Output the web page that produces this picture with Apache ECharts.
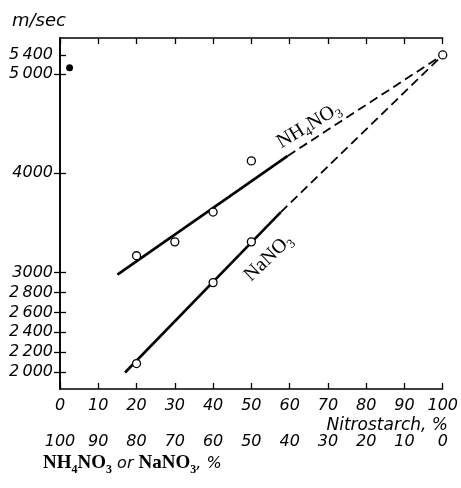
<!DOCTYPE html>
<html>
<head>
<meta charset="utf-8">
<script src="https://cdn.jsdelivr.net/npm/echarts@6/dist/echarts.min.js"></script>
<style>
  html, body { margin: 0; padding: 0; background: #fff; }
  #chart { width: 461px; height: 488px; }
</style>
</head>
<body>
<div id="chart"></div>
<script>
// tick values, m/sec
const yTicks = [2000, 2200, 2400, 2600, 2800, 3000, 4000, 5000, 5400]
const yTickLabels = ['2\u2009000', '2\u2009200', '2\u2009400', '2\u2009600', '2\u2009800', '3000', '4000', '5\u2009000', '5\u2009400']
const rightTicks = [2000, 2200, 2400, 2600, 2800, 3000, 4000, 5000]

// measured points (nitrostarch %, velocity m/sec)
const nh4Pct = [20, 30, 40, 50]
const nh4Vel = [3170, 3310, 3610, 4125]
const naPct = [20, 40, 50]
const naVel = [2085, 2900, 3310]
const purePct = [100]
const pureVel = [5400]
const dotPct = [2.5]
const dotVel = [5130]

// drawn lines: solid part and dashed extrapolation
const nh4LinePct = [15, 59.5]
const nh4LineVel = [2980, 4175]
const nh4DashPct = [59.5, 100]
const nh4DashVel = [4175, 5400]
const naLinePct = [17, 57.7]
const naLineVel = [1995, 3610]
const naDashPct = [57.7, 100]
const naDashVel = [3610, 5400]

// the velocity scale is squeezed above 5000
const squeeze = 0.478
const toAxis = v => v <= 5000 ? v : 5000 + (v - 5000) * squeeze
const fromAxis = u => u <= 5000 ? u : 5000 + (u - 5000) / squeeze
const pairs = (xs, ys) => xs.map((x, i) => [x, toAxis(ys[i])])

const tickFont = { fontFamily: 'DejaVu Sans', fontStyle: 'italic', fontSize: 16, color: '#000' }
const formulaRich = {
  f: { fontFamily: 'Liberation Serif', fontSize: 20, color: '#000', lineHeight: 20 },
  s: { fontFamily: 'Liberation Serif', fontSize: 13, color: '#000', lineHeight: 25, verticalAlign: 'bottom' }
}

const chart = echarts.init(document.getElementById('chart'))

chart.setOption({
  backgroundColor: '#fff',
  animation: false,
  grid: { left: 60, right: 12, top: 38, bottom: 99 },
  xAxis: [
    {
      type: 'value', position: 'bottom', min: 0, max: 100, interval: 10,
      axisLine: { lineStyle: { color: '#000', width: 1.6 } },
      axisTick: { inside: true, length: 6, lineStyle: { color: '#000', width: 1.3 } },
      axisLabel: Object.assign({ margin: 9 }, tickFont),
      splitLine: { show: false }
    },
    {
      type: 'value', position: 'top', min: 0, max: 100, interval: 10,
      axisLine: { lineStyle: { color: '#000', width: 1.6 } },
      axisTick: { inside: true, length: 6, lineStyle: { color: '#000', width: 1.3 } },
      axisLabel: { show: false },
      splitLine: { show: false }
    },
    {
      type: 'value', position: 'bottom', offset: 36, min: 0, max: 100, interval: 10,
      axisLine: { show: false },
      axisTick: { show: false },
      axisLabel: Object.assign({ margin: 9, formatter: v => String(100 - v) }, tickFont),
      splitLine: { show: false }
    }
  ],
  yAxis: [
    {
      type: 'value', position: 'left', min: 1829, max: 5362,
      axisLine: { show: true, lineStyle: { color: '#000', width: 1.6 } },
      axisTick: { show: true, inside: true, length: 6, customValues: yTicks.map(toAxis), lineStyle: { color: '#000', width: 1.3 } },
      axisLabel: Object.assign({
        margin: 7,
        customValues: yTicks.map(toAxis),
        formatter: u => {
          const v = Math.round(fromAxis(u) / 100) * 100
          const i = yTicks.indexOf(v)
          return i >= 0 ? yTickLabels[i] : ''
        }
      }, tickFont),
      splitLine: { show: false }
    },
    {
      type: 'value', position: 'right', min: 1829, max: 5362,
      axisLine: { show: true, lineStyle: { color: '#000', width: 1.6 } },
      axisTick: { show: true, inside: true, length: 6, customValues: rightTicks.map(toAxis), lineStyle: { color: '#000', width: 1.3 } },
      axisLabel: { show: false },
      splitLine: { show: false }
    }
  ],
  graphic: [
    {
      type: 'text', left: 12, top: 12,
      style: { text: 'm/sec', font: 'italic 18px "DejaVu Sans"', fill: '#000' }
    },
    {
      type: 'text', right: 13, top: 417,
      style: { text: 'Nitrostarch, %', font: 'italic 17px "DejaVu Sans"', fill: '#000' }
    },
    {
      type: 'text', left: 43, top: 454,
      style: {
        text: '{f|NH}{s|4}{f|NO}{s|3}{o| or }{f|NaNO}{s|3}{o|, %}',
        rich: {
          f: { fontFamily: 'Liberation Serif', fontWeight: 'bold', fontSize: 19, fill: '#000', lineHeight: 19 },
          s: { fontFamily: 'Liberation Serif', fontWeight: 'bold', fontSize: 12, fill: '#000', lineHeight: 24, verticalAlign: 'bottom' },
          o: { fontFamily: 'DejaVu Sans', fontStyle: 'italic', fontSize: 16, fill: '#000', lineHeight: 19 }
        }
      }
    }
  ],
  series: [
    {
      type: 'line', data: pairs(nh4LinePct, nh4LineVel), symbol: 'none',
      lineStyle: { color: '#000', width: 2.6 }, z: 2
    },
    {
      type: 'line', data: pairs(nh4DashPct, nh4DashVel), symbol: 'none',
      lineStyle: { color: '#000', width: 1.8, type: [9, 5] }, z: 2
    },
    {
      type: 'line', data: pairs(naLinePct, naLineVel), symbol: 'none',
      lineStyle: { color: '#000', width: 2.6 }, z: 2
    },
    {
      type: 'line', data: pairs(naDashPct, naDashVel), symbol: 'none',
      lineStyle: { color: '#000', width: 1.8, type: [9, 5] }, z: 2
    },
    {
      type: 'scatter', data: pairs(nh4Pct, nh4Vel).concat(pairs(naPct, naVel), pairs(purePct, pureVel)),
      symbol: 'circle', symbolSize: 8,
      itemStyle: { color: '#fff', borderColor: '#000', borderWidth: 1.3, opacity: 1 }, z: 5
    },
    {
      type: 'scatter', data: pairs(dotPct, dotVel), symbol: 'circle', symbolSize: 7,
      itemStyle: { color: '#000', opacity: 1 }, z: 5
    },
    {
      type: 'scatter', symbolSize: 0, z: 6,
      data: [
        { value: [65, toAxis(4480)], label: { rotate: 31, formatter: '{f|NH}{s|4}{f|NO}{s|3}' } },
        { value: [54.5, toAxis(3150)], label: { rotate: 44, formatter: '{f|NaNO}{s|3}' } }
      ],
      itemStyle: { opacity: 1 },
      label: { show: true, position: 'inside', color: '#000', textBorderWidth: 0, rich: formulaRich },
      silent: true
    }
  ]
})
</script>
</body>
</html>
